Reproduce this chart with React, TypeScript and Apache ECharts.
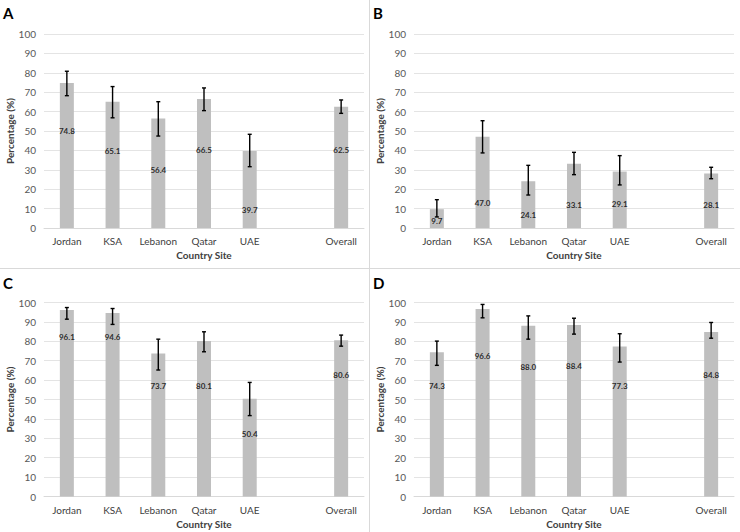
import React, { useEffect, useRef } from "react";
import * as echarts from "echarts";

// Sites (Overall is separated from the countries by an empty slot)
const sites = ["Jordan", "KSA", "Lebanon", "Qatar", "UAE", "Overall"];
const panelLetters = ["A", "B", "C", "D"];

// Panel A
const valuesA = [74.8, 65.1, 56.4, 66.5, 39.7, 62.5];
const lowerA = [68.2, 56.8, 47.4, 60.5, 31.6, 59.1];
const upperA = [80.8, 72.9, 65.1, 72.2, 48.3, 66.0];
const labelAtA = [49.8, 39.9, 29.9, 40.2, 9.5, 40.0];

// Panel B
const valuesB = [9.7, 47.0, 24.1, 33.1, 29.1, 28.1];
const lowerB = [5.7, 38.7, 17.0, 27.5, 22.2, 25.4];
const upperB = [14.6, 55.3, 32.3, 39.0, 37.3, 31.3];
const labelAtB = [3.4, 12.7, 6.9, 12.0, 12.4, 12.0];

// Panel C
const valuesC = [96.1, 94.6, 73.7, 80.1, 50.4, 80.6];
const lowerC = [91.4, 88.7, 65.2, 74.6, 41.7, 77.5];
const upperC = [97.4, 96.9, 81.1, 84.9, 58.8, 83.2];
const labelAtC = [82.3, 82.0, 57.1, 57.1, 32.4, 62.6];

// Panel D
const valuesD = [74.3, 96.6, 88.0, 88.4, 77.3, 84.8];
const lowerD = [67.6, 92.1, 81.1, 83.7, 69.3, 81.6];
const upperD = [80.1, 99.0, 93.1, 91.9, 83.9, 89.7];
const labelAtD = [57.1, 72.2, 67.0, 67.4, 57.1, 62.4];

const yTicks = [0, 10, 20, 30, 40, 50, 60, 70, 80, 90, 100];

const panels = [
  { values: valuesA, lower: lowerA, upper: upperA, labelAt: labelAtA },
  { values: valuesB, lower: lowerB, upper: upperB, labelAt: labelAtB },
  { values: valuesC, lower: lowerC, upper: upperC, labelAt: labelAtC },
  { values: valuesD, lower: lowerD, upper: upperD, labelAt: labelAtD },
];

// category slots: countries, an empty gap, then Overall
const categories = [...sites.slice(0, 5), "", sites[5]];
const slotOf = (i: number) => (i < 5 ? i : i + 1);

const FONT = "Lato, 'Open Sans', sans-serif";

export default function App() {
  const ref = useRef<HTMLDivElement>(null);

  useEffect(() => {
    document.body.style.margin = "0";
    if (!ref.current) return;
    const chart = echarts.init(ref.current, undefined, { renderer: "svg" });

    const gridPos = [
      { left: 44, top: 34 },
      { left: 414, top: 34 },
      { left: 44, top: 302.5 },
      { left: 414, top: 302.5 },
    ];

    const grid = gridPos.map((g) => ({ left: g.left, top: g.top, width: 320, height: 194 }));

    const xAxis = gridPos.map((_, i) => ({
      type: "category",
      gridIndex: i,
      data: categories,
      axisTick: { show: false },
      axisLine: { lineStyle: { color: "#d9d9d9", width: 1 } },
      axisLabel: { color: "#404040", fontFamily: FONT, fontSize: 10, margin: 8, interval: 0 },
      name: "Country Site",
      nameLocation: "middle",
      nameGap: 22,
      nameTextStyle: { color: "#404040", fontFamily: FONT, fontSize: 10, fontWeight: "bold" },
    }));

    const yAxis = gridPos.map((_, i) => ({
      type: "value",
      gridIndex: i,
      min: 0,
      max: 100,
      interval: 10,
      axisLine: { show: false },
      axisTick: { show: false },
      splitLine: { lineStyle: { color: "#e4e4e4", width: 1 } },
      axisLabel: {
        color: "#595959",
        fontFamily: FONT,
        fontSize: 10,
        margin: 8,
        formatter: (v: number) => (yTicks.includes(v) ? String(v) : ""),
      },
      name: "Percentage (%)",
      nameLocation: "middle",
      nameGap: 22,
      nameTextStyle: { color: "#404040", fontFamily: FONT, fontSize: 10, fontWeight: "bold" },
    }));

    const series: any[] = [];
    panels.forEach((p, i) => {
      const barData = categories.map(() => "-" as any);
      p.values.forEach((v, k) => (barData[slotOf(k)] = v));
      series.push({
        type: "bar",
        xAxisIndex: i,
        yAxisIndex: i,
        data: barData,
        barWidth: 14,
        itemStyle: { color: "#bfbfbf" },
        silent: true,
      });
      series.push({
        type: "custom",
        xAxisIndex: i,
        yAxisIndex: i,
        encode: { x: 0, y: [1, 2] },
        data: p.values.map((_, k) => [slotOf(k), p.lower[k], p.upper[k]]),
        renderItem: (params: any, api: any) => {
          const x = api.value(0);
          const lo = api.coord([x, api.value(1)]);
          const hi = api.coord([x, api.value(2)]);
          const cap = 2;
          const st = { stroke: "#000000", lineWidth: 1.4 };
          return {
            type: "group",
            children: [
              { type: "line", shape: { x1: lo[0], y1: lo[1], x2: hi[0], y2: hi[1] }, style: st },
              { type: "line", shape: { x1: lo[0] - cap, y1: lo[1], x2: lo[0] + cap, y2: lo[1] }, style: st },
              { type: "line", shape: { x1: hi[0] - cap, y1: hi[1], x2: hi[0] + cap, y2: hi[1] }, style: st },
            ],
          };
        },
        z: 5,
      });
      series.push({
        type: "scatter",
        xAxisIndex: i,
        yAxisIndex: i,
        symbolSize: 0,
        data: p.values.map((v, k) => [slotOf(k), p.labelAt[k], v]),
        label: {
          show: true,
          position: "inside",
          formatter: (prm: any) => prm.data[2].toFixed(1),
          color: "#000000",
          fontFamily: FONT,
          fontSize: 8,
          fontWeight: "bold",
        },
        z: 6,
        silent: true,
      });
    });

    const letterPos = [
      { x: 3, y: 5 },
      { x: 373, y: 5 },
      { x: 3, y: 275 },
      { x: 373, y: 275 },
    ];

    const graphic: any[] = [
      { type: "line", shape: { x1: 369.5, y1: 0, x2: 369.5, y2: 532 }, style: { stroke: "#d9d9d9", lineWidth: 1 } },
      { type: "line", shape: { x1: 0, y1: 268.5, x2: 740, y2: 268.5 }, style: { stroke: "#d9d9d9", lineWidth: 1 } },
      ...panelLetters.map((t, i) => ({
        type: "text",
        x: letterPos[i].x,
        y: letterPos[i].y,
        style: { text: t, fill: "#000000", font: `bold 15px ${FONT}` },
      })),
    ];

    chart.setOption({
      animation: false,
      backgroundColor: "#ffffff",
      grid,
      xAxis,
      yAxis,
      series,
      graphic,
    });

    return () => chart.dispose();
  }, []);

  return <div ref={ref} style={{ width: 740, height: 532 }} />;
}
